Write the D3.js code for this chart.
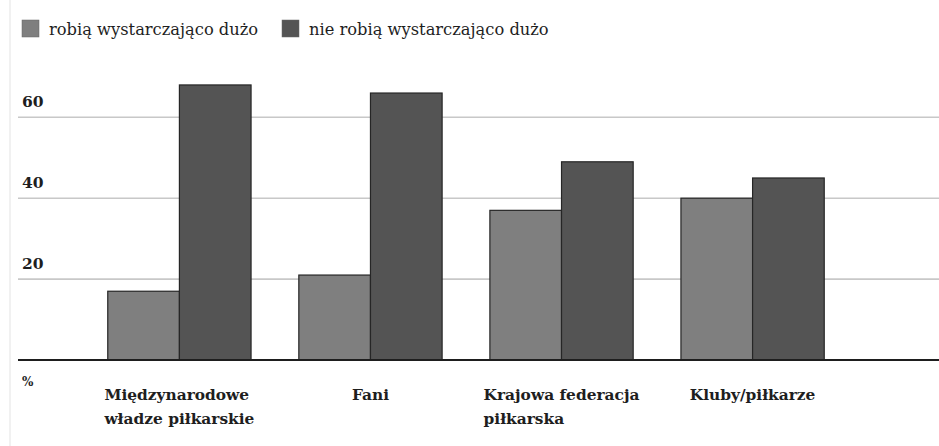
<!DOCTYPE html>
<html>
<head>
<meta charset="utf-8">
<script src="https://cdn.jsdelivr.net/npm/d3@7"></script>
<style>
  body { margin: 0; background: #fff; }
  text { font-family: "DejaVu Serif", serif; fill: #1e1e1e; }
</style>
</head>
<body>
<script>
var categories = [["Międzynarodowe", "władze piłkarskie"], ["Fani"], ["Krajowa federacja", "piłkarska"], ["Kluby/piłkarze"]];
var series = ["robią wystarczająco dużo", "nie robią wystarczająco dużo"];
var enough = [17, 21, 37, 40];
var notEnough = [68, 66, 49, 45];
var yTicks = [20, 40, 60];

var w = 939;
var h = 446;
var colors = ["#7f7f7f", "#545454"];

var svg = d3.select("body")
            .append("svg")
            .attr("width", w)
            .attr("height", h);

// faint left border of the scan
svg.append("line")
   .attr("x1", 10).attr("x2", 10)
   .attr("y1", 0).attr("y2", h)
   .attr("stroke", "#ececec")
   .attr("stroke-width", 1.5);

var names = categories.map(function(d){ return d.join(" "); });

var x = d3.scaleBand()
          .domain(names)
          .range([60, 872])
          .paddingInner(0.25)
          .paddingOuter(0.25);

var xs = d3.scaleBand()
           .domain([0, 1])
           .range([0, x.bandwidth()]);

var y = d3.scaleLinear()
          .domain([0, 60])
          .range([360, 117.3]);

// gridlines
svg.selectAll("line.grid")
   .data(yTicks)
   .enter()
   .append("line")
   .attr("class", "grid")
   .attr("x1", 18)
   .attr("x2", w)
   .attr("y1", function(d){ return y(d); })
   .attr("y2", function(d){ return y(d); })
   .attr("stroke", "#c8c8c8")
   .attr("stroke-width", 1.6);

svg.selectAll("text.ytick")
   .data(yTicks)
   .enter()
   .append("text")
   .attr("class", "ytick")
   .attr("x", 22)
   .attr("y", function(d){ return y(d) - 10; })
   .attr("font-size", 15.5)
   .attr("font-weight", "bold")
   .text(function(d){ return d; });

// bars
var rows = names.map(function(n, i){ return { name: n, values: [enough[i], notEnough[i]] }; });

var groups = svg.selectAll("g.cat")
                .data(rows)
                .enter()
                .append("g")
                .attr("class", "cat")
                .attr("transform", function(d){ return "translate(" + x(d.name) + ",0)"; });

groups.selectAll("rect")
      .data(function(d){ return d.values; })
      .enter()
      .append("rect")
      .attr("x", function(d, i){ return xs(i); })
      .attr("y", function(d){ return y(d); })
      .attr("width", xs.bandwidth())
      .attr("height", function(d){ return y(0) - y(d); })
      .attr("fill", function(d, i){ return colors[i]; })
      .attr("stroke", "#262626")
      .attr("stroke-width", 1.2);

// baseline
svg.append("line")
   .attr("x1", 18)
   .attr("x2", w)
   .attr("y1", y(0))
   .attr("y2", y(0))
   .attr("stroke", "#1e1e1e")
   .attr("stroke-width", 2);

svg.append("text")
   .attr("x", 22)
   .attr("y", 386)
   .attr("font-size", 12)
   .attr("font-weight", "bold")
   .text("%");

// category labels: left-aligned block centred under each group
var labels = svg.selectAll("text.cat")
                .data(categories)
                .enter()
                .append("text")
                .attr("class", "cat")
                .attr("font-size", 15.4)
                .attr("font-weight", "bold");

labels.selectAll("tspan")
      .data(function(d){ return d; })
      .enter()
      .append("tspan")
      .attr("dy", function(d, i){ return i === 0 ? 0 : 24; })
      .text(function(d){ return d; });

labels.each(function(d, i){
  var t = d3.select(this);
  var maxW = 0;
  t.selectAll("tspan").each(function(){ maxW = Math.max(maxW, this.getComputedTextLength()); });
  var left = x(names[i]) + x.bandwidth() / 2 - maxW / 2;
  t.attr("y", 400);
  t.selectAll("tspan").attr("x", left);
});

// legend
var legendX = [22, 282];
var legend = svg.selectAll("g.legend")
                .data(series)
                .enter()
                .append("g")
                .attr("class", "legend")
                .attr("transform", function(d, i){ return "translate(" + legendX[i] + ",20)"; });

legend.append("rect")
      .attr("width", 17)
      .attr("height", 17)
      .attr("fill", function(d, i){ return colors[i]; })
      .attr("stroke", "#666")
      .attr("stroke-width", 0.5);

legend.append("text")
      .attr("x", 27)
      .attr("y", 15)
      .attr("font-size", 16.3)
      .text(function(d){ return d; });
</script>
</body>
</html>
